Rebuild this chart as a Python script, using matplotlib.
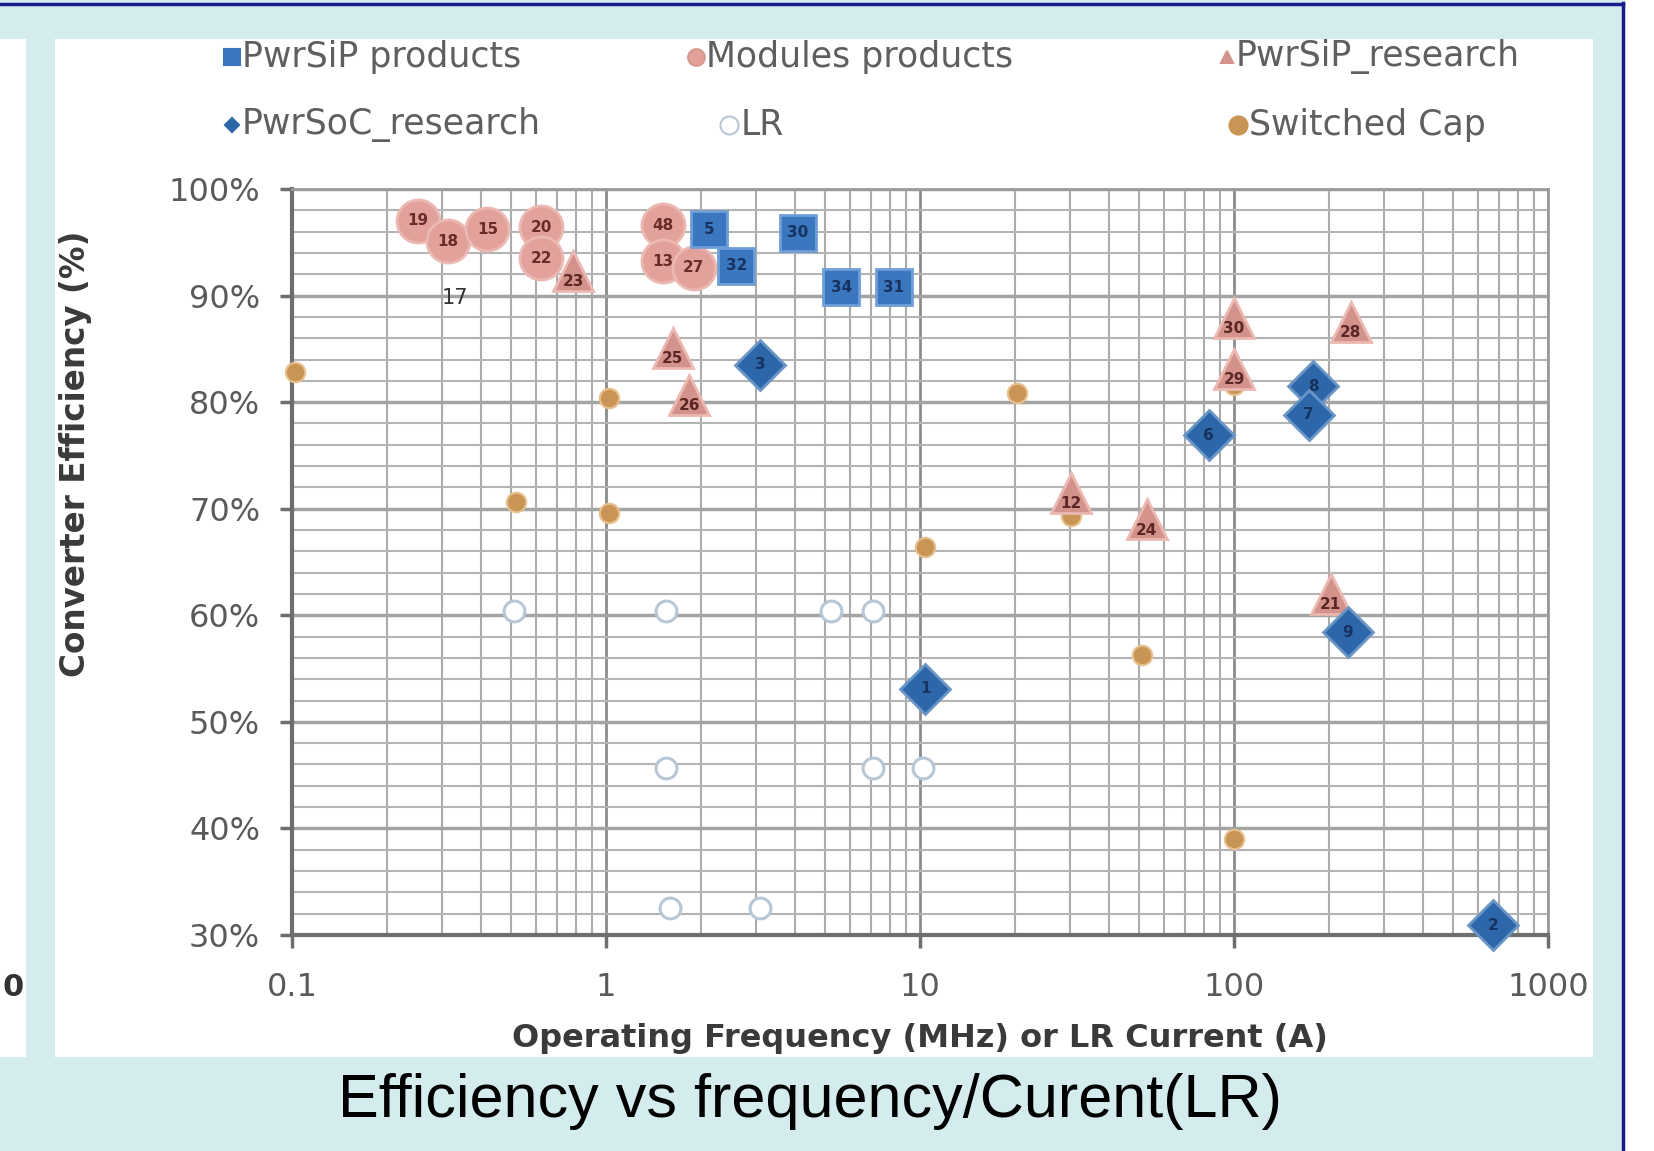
import numpy as np
import matplotlib
matplotlib.use("Agg")
import matplotlib.pyplot as plt
from matplotlib.patches import Rectangle
from matplotlib.lines import Line2D
from matplotlib.ticker import FixedLocator, NullFormatter

# ------------------------------------------------------------
# data (x: MHz or A, y: efficiency in %)
# ------------------------------------------------------------
sip_x = [2.13, 2.60, 4.09, 5.61, 8.24]
sip_y = [96.2, 92.8, 95.9, 90.8, 90.8]
sip_lbl = ["5", "32", "30", "34", "31"]

mod_x = [0.252, 0.313, 0.419, 0.621, 0.621, 1.52, 1.52, 1.90]
mod_y = [97.0, 95.1, 96.2, 96.4, 93.5, 96.6, 93.2, 92.6]
mod_lbl = ["19", "18", "15", "20", "22", "48", "13", "27"]

tri_x = [0.787, 1.63, 1.84, 30.3, 52.7, 100, 100, 235, 203]
tri_y = [92.3, 85.1, 80.7, 71.5, 69.0, 87.9, 83.1, 87.5, 62.0]
tri_lbl = ["23", "25", "26", "12", "24", "30", "29", "28", "21"]

soc_x = [3.10, 10.4, 83, 179, 173, 230, 670]
soc_y = [83.5, 53.1, 76.9, 81.5, 78.8, 58.4, 30.9]
soc_lbl = ["3", "1", "6", "8", "7", "9", "2"]

lr_x = [0.51, 1.55, 5.2, 7.1, 1.55, 7.1, 10.2, 1.60, 3.10]
lr_y = [60.4, 60.4, 60.4, 60.4, 45.7, 45.7, 45.7, 32.5, 32.5]

sc_x = [0.102, 1.02, 0.515, 1.02, 20.3, 30.3, 10.4, 51, 100, 100]
sc_y = [82.8, 80.4, 70.6, 69.6, 80.9, 69.3, 66.4, 56.3, 39.0, 81.6]

y_ticks = [30, 40, 50, 60, 70, 80, 90, 100]
y_ticklabels = ["30%", "40%", "50%", "60%", "70%", "80%", "90%", "100%"]
x_ticks = [0.1, 1, 10, 100, 1000]
x_ticklabels = ["0.1", "1", "10", "100", "1000"]

legend_names = ["PwrSiP products", "Modules products", "PwrSiP_research",
                "PwrSoC_research", "LR", "Switched Cap"]

# ------------------------------------------------------------
W, H = 1654, 1151
BG = "#D4ECEE"
NAVY = "#1B1B8A"

fig = plt.figure(figsize=(W / 100, H / 100), dpi=100, facecolor=BG)


def fx(px):
    return px / W


def fy(py):
    return 1 - py / H


# slide panels
panel = Rectangle((fx(55), fy(1057)), fx(1593) - fx(55), fy(39) - fy(1057),
                  transform=fig.transFigure, facecolor="white", edgecolor="none", zorder=-5)
fig.add_artist(panel)
fig.add_artist(Rectangle((0, fy(1057)), fx(26), fy(39) - fy(1057),
                         transform=fig.transFigure, facecolor="white", edgecolor="none", zorder=-5))
fig.add_artist(Rectangle((fx(1625), 0), 1 - fx(1625), 1,
                         transform=fig.transFigure, facecolor="white", edgecolor="none", zorder=-5))
fig.add_artist(Line2D([0, fx(1623)], [fy(4), fy(4)], transform=fig.transFigure,
                      color=NAVY, lw=2.5))
fig.add_artist(Line2D([fx(1623), fx(1623)], [0, fy(3)], transform=fig.transFigure,
                      color=NAVY, lw=2.5))

# leftover of the neighbouring chart
fig.text(fx(2), fy(988), "0", fontsize=22, fontweight="bold", color="#333333",
         family="DejaVu Sans", ha="left", va="center")

# ------------------------------------------------------------
ax = fig.add_axes([fx(292), fy(935), fx(1548) - fx(292), fy(189) - fy(935)])
ax.set_facecolor("none")
ax.set_xscale("log")
ax.set_xlim(0.1, 1000)
ax.set_ylim(30, 100)

ax.xaxis.set_major_locator(FixedLocator(x_ticks))
ax.xaxis.set_minor_locator(FixedLocator(
    [m * 10.0 ** e for e in range(-1, 3) for m in range(2, 10)]))
ax.xaxis.set_minor_formatter(NullFormatter())
ax.set_xticks(x_ticks)
ax.set_xticklabels(x_ticklabels)
ax.set_yticks(y_ticks)
ax.set_yticklabels(y_ticklabels)
ax.yaxis.set_minor_locator(FixedLocator(np.arange(30, 101, 2)))

ax.grid(which="major", axis="x", color="#8c8c8c", lw=2)
ax.grid(which="minor", axis="x", color="#ababab", lw=1.5)
ax.grid(which="major", axis="y", color="#a4a4a4", lw=2.5)
ax.grid(which="minor", axis="y", color="#b4b4b4", lw=1.5)
ax.set_axisbelow(True)

for side in ["left", "bottom"]:
    ax.spines[side].set_color("#6e6e6e")
    ax.spines[side].set_linewidth(3)
for side in ["top", "right"]:
    ax.spines[side].set_color("#9a9a9a")
    ax.spines[side].set_linewidth(2)

ax.tick_params(which="major", direction="out", length=9, width=2.5, color="#6e6e6e",
               labelsize=23, labelcolor="#5a5a5a")
ax.tick_params(axis="y", pad=14)
ax.tick_params(axis="x", pad=18)
ax.tick_params(which="minor", length=0)
for lab in ax.get_xticklabels() + ax.get_yticklabels():
    lab.set_family("DejaVu Sans")
ax.get_xticklabels()[-1].set_clip_path(panel)

ax.set_xlabel("Operating Frequency (MHz) or LR Current (A)", fontsize=23,
              fontweight="bold", color="#3a3a3a", family="DejaVu Sans", labelpad=14)
ax.set_ylabel("Converter Efficiency (%)", fontsize=23.5, fontweight="bold",
              color="#3a3a3a", family="DejaVu Sans")
ax.yaxis.set_label_coords(-0.159, 0.645)

# ------------------------------------------------------------
# series
ax.plot(lr_x, lr_y, "o", ms=15, mfc="white", mec="#B7C7D6", mew=2.2, ls="none",
        zorder=3, clip_on=False)
ax.plot(sc_x, sc_y, "o", ms=14, mfc="#C99555", mec="#E6C08E", mew=1.5, ls="none",
        zorder=4, clip_on=False)
ax.plot(mod_x, mod_y, "o", ms=31, mfc="#E3A19B", mec="#EBB8B2", mew=2, ls="none",
        zorder=5, clip_on=False)
ax.plot(tri_x, tri_y, "^", ms=29, mfc="#D4928D", mec="#EBB8B2", mew=2, ls="none",
        zorder=6, clip_on=False)
ax.plot(sip_x, sip_y, "s", ms=26, mfc="#3A77BF", mec="#6E9FD6", mew=2, ls="none",
        zorder=7, clip_on=False)
ax.plot(soc_x, soc_y, "D", ms=25, mfc="#2E66AA", mec="#6A95C9", mew=2, ls="none",
        zorder=8, clip_on=False)

for x, y, s in zip(mod_x, mod_y, mod_lbl):
    ax.text(x, y, s, fontsize=11, fontweight="bold", color="#6b2b2b",
            ha="center", va="center", zorder=5.5)
for x, y, s in zip(tri_x, tri_y, tri_lbl):
    ax.text(x, y - 1.0, s, fontsize=11, fontweight="bold", color="#5a2626",
            ha="center", va="center", zorder=6.5)
for x, y, s in zip(sip_x, sip_y, sip_lbl):
    ax.text(x, y, s, fontsize=11, fontweight="bold", color="#17325e",
            ha="center", va="center", zorder=7.5)
for x, y, s in zip(soc_x, soc_y, soc_lbl):
    ax.text(x, y, s, fontsize=11, fontweight="bold", color="#17325e",
            ha="center", va="center", zorder=8.5)
ax.text(0.33, 89.8, "17", fontsize=15, color="#333333", ha="center", va="center", zorder=9)

# ------------------------------------------------------------
# legend drawn above the plot area, two rows
leg_font = dict(fontsize=25, color="#5f5f5f", family="DejaVu Sans", va="center", ha="left")
row1, row2 = fy(57), fy(125)
legend_items = [
    (232, row1, "s", 12, "#3A77BF", "#3A77BF", 242, legend_names[0]),
    (696, row1, "o", 12, "#E3A19B", "#D99790", 706, legend_names[1]),
    (1227, row1, "^", 9, "#D4928D", "#D4928D", 1236, legend_names[2]),
    (232, row2, "D", 7, "#2E66AA", "#2E66AA", 242, legend_names[3]),
    (729, row2, "o", 13, "white", "#B7C7D6", 741, legend_names[4]),
    (1238, row2, "o", 13, "#C99555", "#C99555", 1249, legend_names[5]),
]
for mx, my, mk, ms, fc, ec, tx, name in legend_items:
    fig.add_artist(Line2D([fx(mx)], [my], transform=fig.transFigure, marker=mk, ms=ms,
                          mfc=fc, mec=ec, mew=1.5, ls="none"))
    fig.text(fx(tx), my, name, **leg_font)

# slide caption
fig.text(fx(810), fy(1102), "Efficiency vs frequency/Curent(LR)", fontsize=44,
         family="Liberation Sans", color="black", ha="center", va="center")

fig.savefig("out.png", dpi=100, facecolor=BG)
